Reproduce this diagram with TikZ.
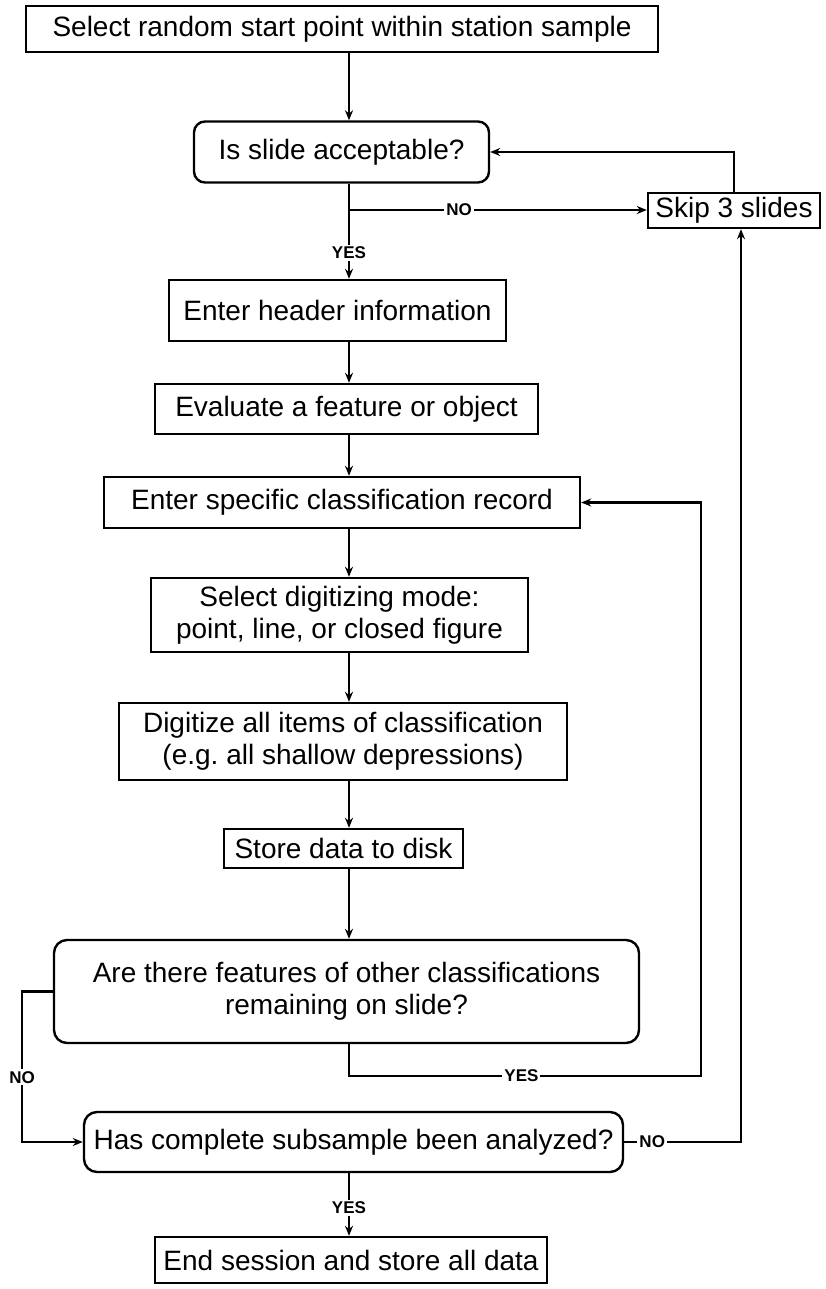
\documentclass[tikz,border=0pt]{standalone}
\usepackage{fontspec}
\setmainfont{Liberation Sans}
\usetikzlibrary{arrows.meta,calc}
\begin{document}
\begin{tikzpicture}[x=1pt,y=-1pt,
  every node/.style={font=\fontsize{28}{32}\selectfont},
  box/.style={draw,line width=2.4pt,inner sep=0pt,align=center},
  rbox/.style={box,rounded corners=11pt},
  conn/.style={line width=2.4pt},
  arr/.style={conn,-{Stealth[length=10pt,width=8pt]}},
  lbl/.style={fill=white,inner sep=2pt,font=\fontsize{17}{17}\selectfont\bfseries}
]
\useasboundingbox (0,0) rectangle (825,1289);
\coordinate (axis) at (349,0);
\coordinate (lx) at (22,0);
\coordinate (rx1) at (701,0);
\coordinate (rx2) at (741,0);

\node[box,minimum width=632,minimum height=46] (box1) at (342,29) {Select random start point within station sample};
\node[rbox,minimum width=295,minimum height=61] (acc) at (341.5,152) {Is slide acceptable?};
\node[box,minimum width=172,minimum height=35] (skip) at (734,210.5) {Skip 3 slides};
\node[box,minimum width=337,minimum height=61] (hdr) at (337.5,310.5) {Enter header information};
\node[box,minimum width=383,minimum height=50] (eval) at (346.5,409) {Evaluate a feature or object};
\node[box,minimum width=476,minimum height=51] (spec) at (342,502.5) {Enter specific classification record};
\node[box,minimum width=377,minimum height=74] (mode) at (339.5,615) {Select digitizing mode:\\point, line, or closed figure};
\node[box,minimum width=448,minimum height=77] (digit) at (343,741.5) {Digitize all items of classification\\(e.g.\ all shallow depressions)};
\node[box,minimum width=239,minimum height=39] (store) at (343.5,848.5) {Store data to disk};
\node[rbox,rounded corners=13pt,minimum width=585,minimum height=103] (are) at (346.5,991.5) {Are there features of other classifications\\remaining on slide?};
\node[rbox,rounded corners=13pt,minimum width=539,minimum height=60] (has) at (353.5,1142) {Has complete subsample been analyzed?};
\node[box,minimum width=392,minimum height=46] (endn) at (351,1260) {End session and store all data};

\node[lbl] (yes1) at (349,253) {YES};
\node[lbl] (yes3) at (349,1208) {YES};
\coordinate (nobr) at (349,210);
\coordinate (yesy) at (350,1076);

% main flow
\draw[arr] (box1.south -| axis) -- (acc.north -| axis);
\draw[conn] (acc.south -| axis) -- (yes1.north);
\draw[arr] (yes1.south) -- (hdr.north -| axis);
\draw[arr] (nobr) -- node[lbl,pos=0.37]{NO} (skip.west |- nobr);
\draw[arr] (skip.north) |- (acc.east);
\draw[arr] (hdr.south -| axis) -- (eval.north -| axis);
\draw[arr] (eval.south -| axis) -- (spec.north -| axis);
\draw[arr] (spec.south -| axis) -- (mode.north -| axis);
\draw[arr] (mode.south -| axis) -- (digit.north -| axis);
\draw[arr] (digit.south -| axis) -- (store.north -| axis);
\draw[arr] (store.south -| axis) -- (are.north -| axis);

% YES loop back
\draw[arr] (are.south -| axis) -- (yesy -| axis) -- node[lbl,pos=0.49]{YES} (yesy -| rx1) -- (spec.east -| rx1) -- (spec.east);

% NO to has
\draw[arr] (are.west) -- (are.west -| lx) -- node[lbl,pos=0.57]{NO} (has.west -| lx) -- (has.west);

% has NO to skip
\draw[arr] (has.east) -- node[lbl,pos=0.24]{NO} (has.east -| rx2) -- (skip.south -| rx2);

% has YES to end
\draw[conn] (has.south -| axis) -- (yes3.north);
\draw[arr] (yes3.south) -- (endn.north -| axis);
\end{tikzpicture}
\end{document}
